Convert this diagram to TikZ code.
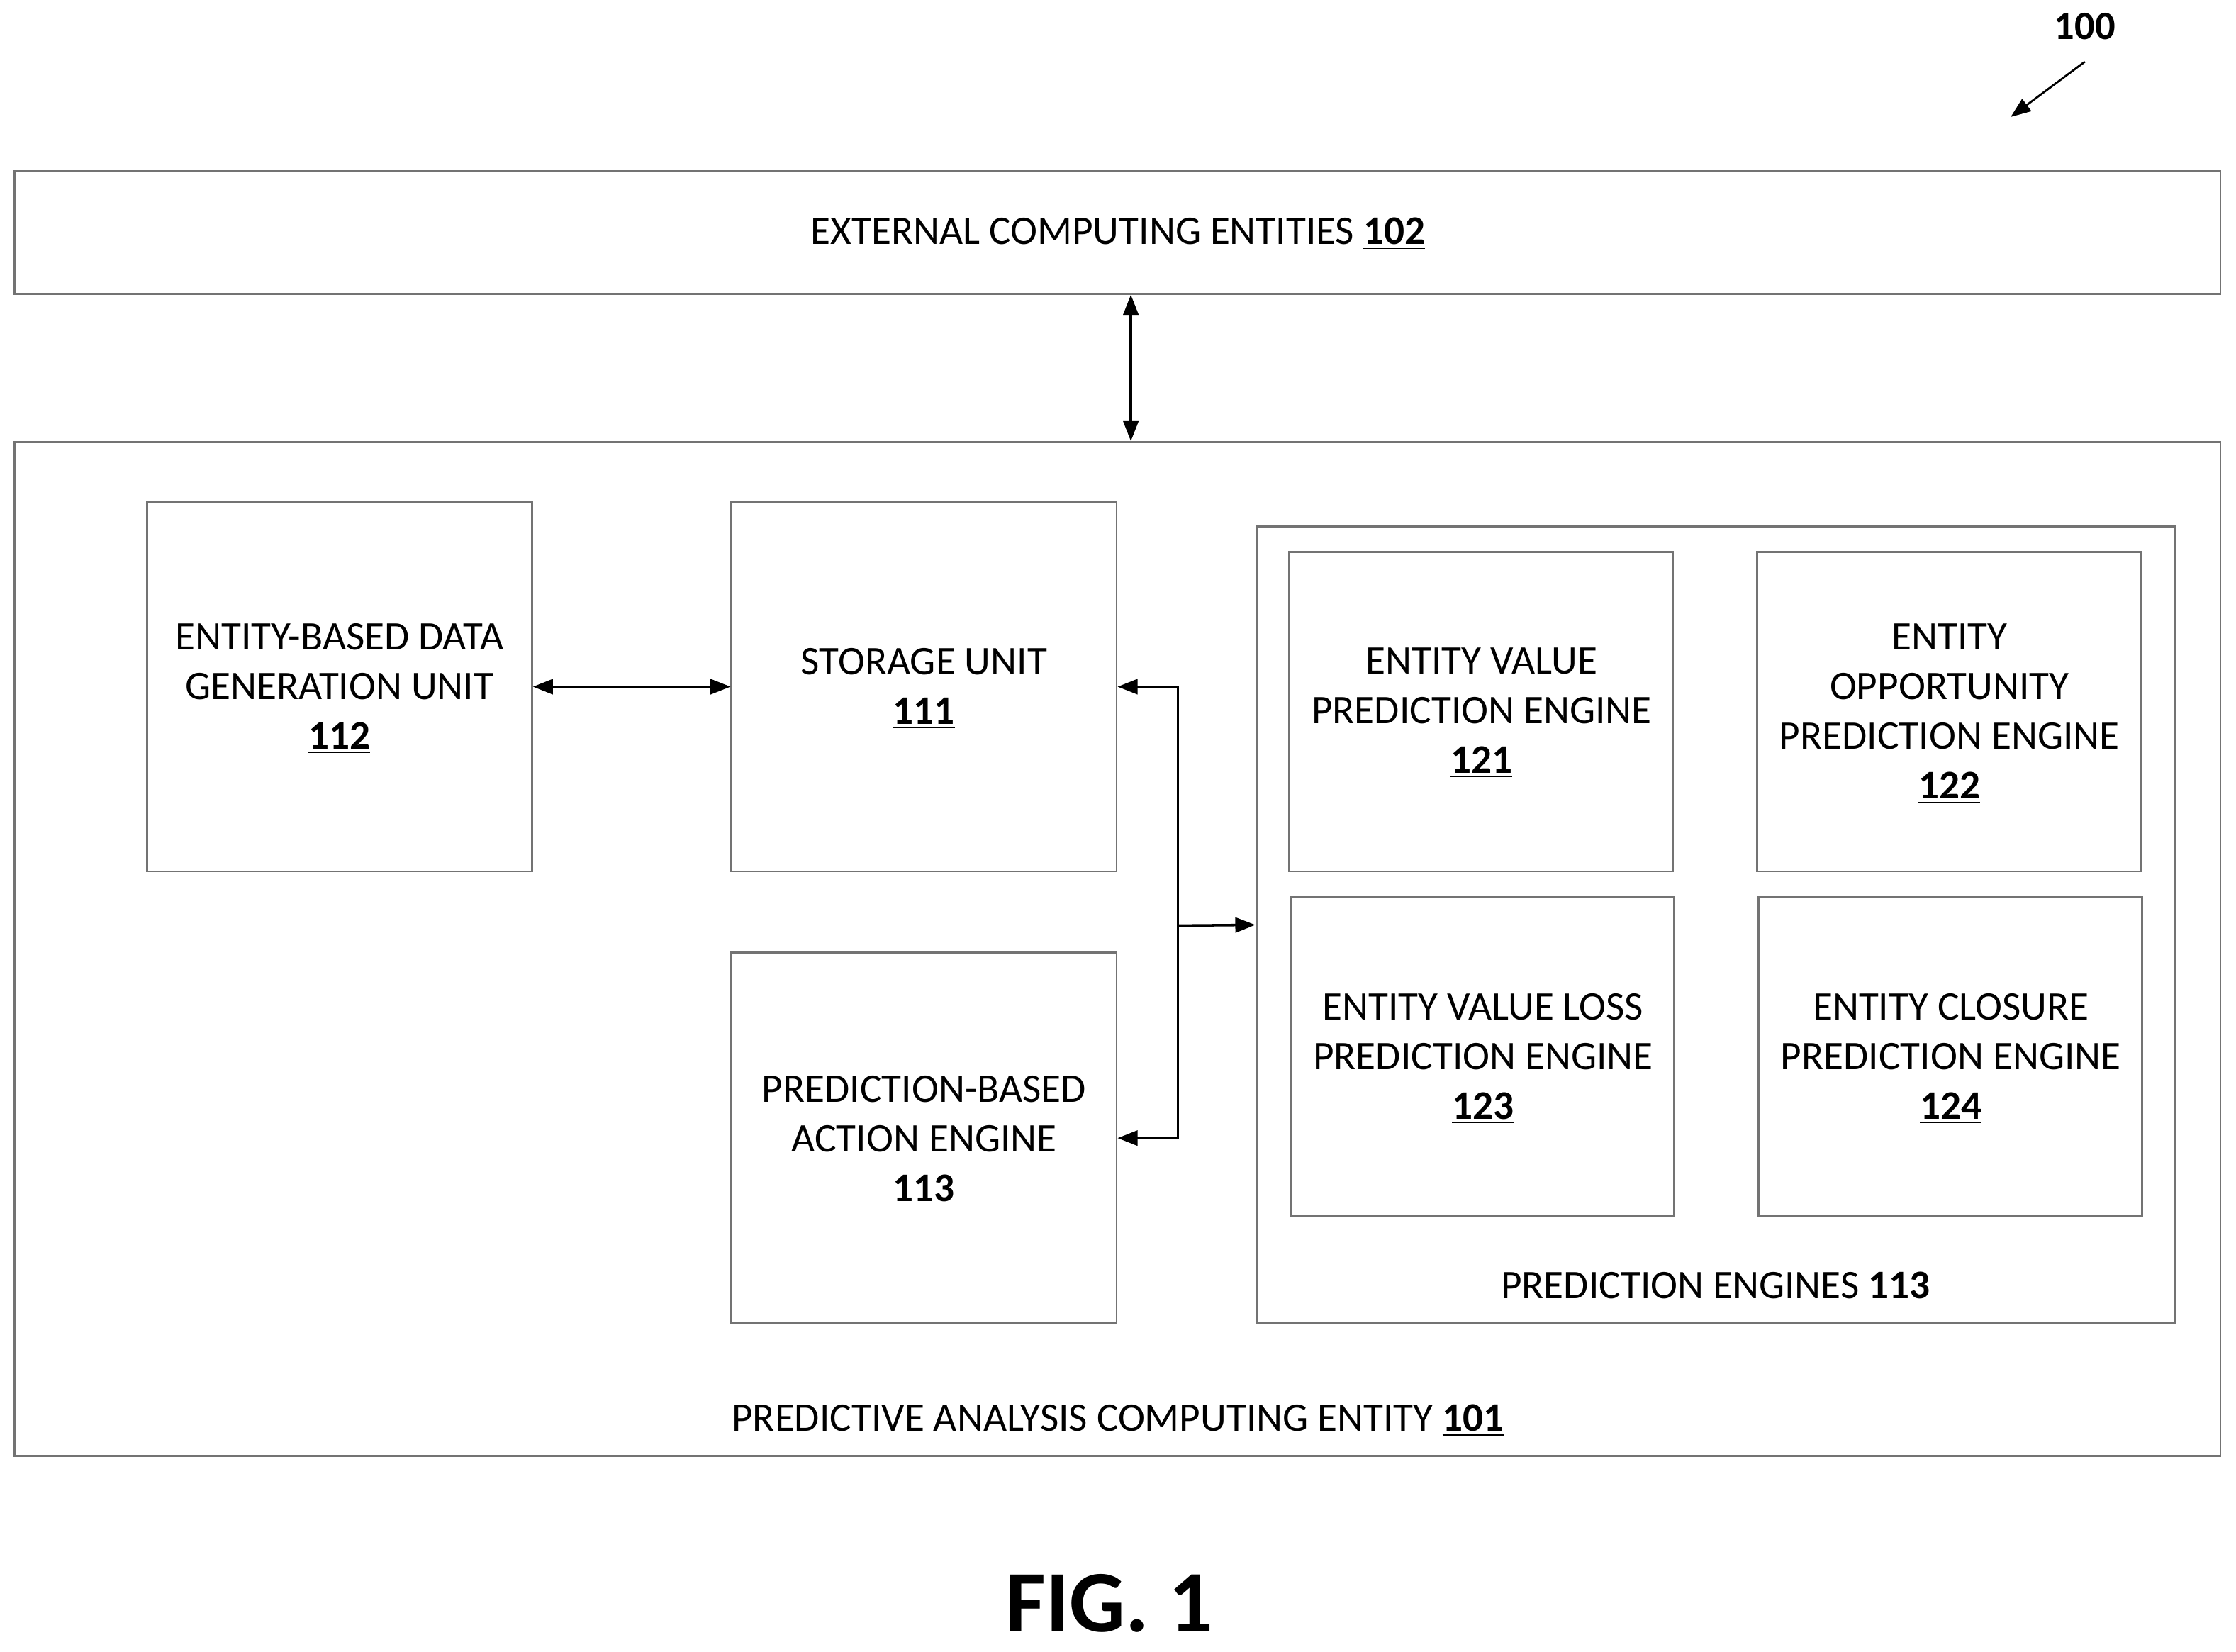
\documentclass[tikz,border=0pt]{standalone}
\usepackage{fontspec}
\setmainfont{Carlito}
\usetikzlibrary{positioning,arrows.meta}
\tikzset{
  box/.style={draw=black!55, line width=0.8pt, inner sep=0pt},
  txt/.style={font=\fontsize{16.2}{19.8}\selectfont, align=center},
  conn/.style={line width=1pt, {Triangle[length=8pt,width=6pt]}-{Triangle[length=8pt,width=6pt]}},
}
\newcommand{\refno}[1]{\textbf{\underline{#1}}}
\begin{document}
\begin{tikzpicture}[x=0.02cm,y=-0.02cm]
    \useasboundingbox (0,0) rectangle (1568,1158);
    % boxes
    \node[box, minimum width=1547*0.02cm, minimum height=86*0.02cm] (ext) at (783.5,163) {};
    \node[box, minimum width=1547*0.02cm, minimum height=711*0.02cm] (pace) at (783.5,665.5) {};
    \node[box, minimum width=270*0.02cm, minimum height=259*0.02cm] (gen) at (238,481.5) {};
    \node[box, minimum width=270*0.02cm, minimum height=259*0.02cm] (stor) at (648,481.5) {};
    \node[box, minimum width=270*0.02cm, minimum height=260*0.02cm] (act) at (648,798) {};
    \node[box, minimum width=644*0.02cm, minimum height=559*0.02cm] (eng) at (1203,648.5) {};
    \node[box, minimum width=269*0.02cm, minimum height=224*0.02cm] (val) at (1038.5,499) {};
    \node[box, minimum width=269*0.02cm, minimum height=224*0.02cm] (opp) at (1366.5,499) {};
    \node[box, minimum width=269*0.02cm, minimum height=224*0.02cm] (loss) at (1039.5,741) {};
    \node[box, minimum width=269*0.02cm, minimum height=224*0.02cm] (clos) at (1367.5,741) {};
    % texts
    \node[txt] at (784,164) {EXTERNAL COMPUTING ENTITIES \refno{102}};
    \node[txt] at (784,996) {PREDICTIVE ANALYSIS COMPUTING ENTITY \refno{101}};
    \node[txt] at (1203,903) {PREDICTION ENGINES \refno{113}};
    \node[txt] at (238,483) {ENTITY-BASED DATA\\GENERATION UNIT\\\refno{112}};
    \node[txt] at (648,483) {STORAGE UNIT\\\refno{111}};
    \node[txt] at (648,800) {PREDICTION-BASED\\ACTION ENGINE\\\refno{113}};
    \node[txt] at (1039,500) {ENTITY VALUE\\PREDICTION ENGINE\\\refno{121}};
    \node[txt] at (1367,500.5) {ENTITY\\OPPORTUNITY\\PREDICTION ENGINE\\\refno{122}};
    \node[txt] at (1040,742.5) {ENTITY VALUE LOSS\\PREDICTION ENGINE\\\refno{123}};
    \node[txt] at (1368,742.5) {ENTITY CLOSURE\\PREDICTION ENGINE\\\refno{124}};
    \node[font=\fontsize{16}{18}\selectfont] (fig) at (1462,20) {\refno{100}};
    \node[font=\fontsize{35}{40}\selectfont\bfseries] (cap) at (778,1124) {FIG. 1};
    % connectors
    \coordinate (j) at (826,649);
    \coordinate (p) at (1410,82);
    \draw[conn] (ext.south -| 793,0) -- (pace.north -| 793,0);
    \draw[conn] (gen.east) -- (stor.west);
    \draw[conn] (stor.east) -| (j) |- (act.east);
    \draw[line width=1pt, -{Triangle[length=8pt,width=6pt]}] (j) -- (eng.west);
    \draw[line width=0.8pt, -{Triangle[length=8pt,width=6pt]}] (fig.south) ++(0,6) -- (p);
\end{tikzpicture}
\end{document}
